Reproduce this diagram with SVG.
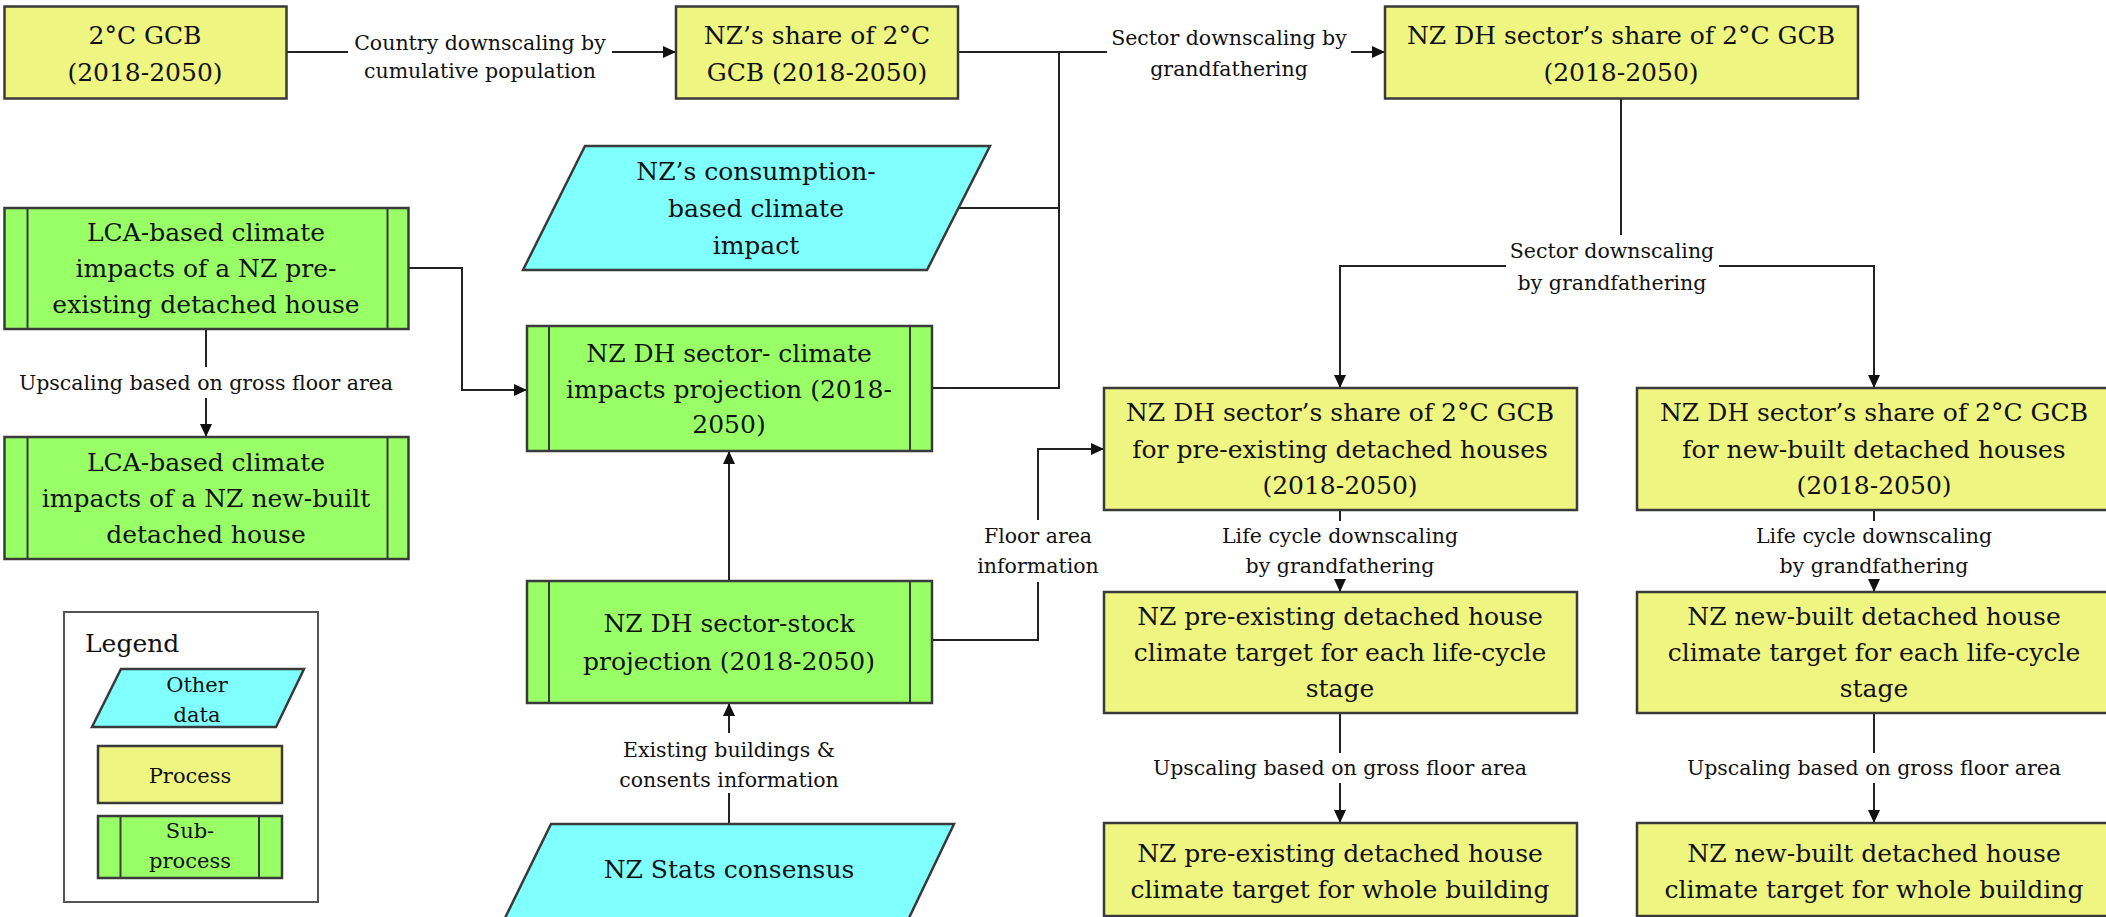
<svg xmlns="http://www.w3.org/2000/svg" width="2106" height="917" viewBox="0 0 2106 917">
<style>
.proc{fill:#EFF581;stroke:#3a3a3a;stroke-width:2.5}
.sub{fill:#99FF66;stroke:#3a3a3a;stroke-width:2.5}
.bar{stroke:#3a3a3a;stroke-width:2;fill:none}
.data{fill:#80FFFF;stroke:#3a3a3a;stroke-width:2.5}
.t{font-family:"DejaVu Serif","Liberation Serif",serif;font-size:25px;fill:#111;text-anchor:middle}
.l{font-family:"DejaVu Serif","Liberation Serif",serif;font-size:20.5px;fill:#111;text-anchor:middle}
.c{fill:none;stroke:#222;stroke-width:2}
.legend{fill:#fff;stroke:#555;stroke-width:2}
</style>
<defs>
<marker id="ah" markerUnits="userSpaceOnUse" markerWidth="14" markerHeight="14" refX="13" refY="7" orient="auto">
<path d="M0,1 L13,7 L0,13 Z" fill="#111"/>
</marker>
</defs>
<rect width="2106" height="917" fill="#fff"/>

<g id="connectors">
<!-- A to B -->
<path class="c" d="M287,52 H348"/>
<path class="c" d="M612,52 H676" marker-end="url(#ah)"/>
<text class="l" x="480" y="50">Country downscaling by</text>
<text class="l" x="480" y="78">cumulative population</text>
<!-- B to C -->
<path class="c" d="M958,52 H1107"/>
<path class="c" d="M1351,52 H1385" marker-end="url(#ah)"/>
<text class="l" x="1229" y="45">Sector downscaling by</text>
<text class="l" x="1229" y="76">grandfathering</text>
<!-- consumption to junction -->
<path class="c" d="M958,208 H1059"/>
<!-- G to junction -->
<path class="c" d="M932,388 H1059 V52"/>
<!-- C to D1/D2 -->
<path class="c" d="M1621,99 V235"/>
<path class="c" d="M1506,266 H1340 V388" marker-end="url(#ah)"/>
<path class="c" d="M1719,266 H1874 V388" marker-end="url(#ah)"/>
<text class="l" x="1612" y="258">Sector downscaling</text>
<text class="l" x="1612" y="290">by grandfathering</text>
<!-- D1 to E1 -->
<path class="c" d="M1340,510 V521"/>
<path class="c" d="M1340,579 V592" marker-end="url(#ah)"/>
<text class="l" x="1340" y="543">Life cycle downscaling</text>
<text class="l" x="1340" y="573">by grandfathering</text>
<!-- D2 to E2 -->
<path class="c" d="M1874,510 V521"/>
<path class="c" d="M1874,579 V592" marker-end="url(#ah)"/>
<text class="l" x="1874" y="543">Life cycle downscaling</text>
<text class="l" x="1874" y="573">by grandfathering</text>
<!-- E1 to F1 -->
<path class="c" d="M1340,713 V753"/>
<path class="c" d="M1340,783 V823" marker-end="url(#ah)"/>
<text class="l" x="1340" y="775">Upscaling based on gross floor area</text>
<!-- E2 to F2 -->
<path class="c" d="M1874,713 V753"/>
<path class="c" d="M1874,783 V823" marker-end="url(#ah)"/>
<text class="l" x="1874" y="775">Upscaling based on gross floor area</text>
<!-- LCA1 to G -->
<path class="c" d="M409,268 H462 V390 H527" marker-end="url(#ah)"/>
<!-- LCA1 to LCA2 -->
<path class="c" d="M206,329 V367"/>
<path class="c" d="M206,398 V437" marker-end="url(#ah)"/>
<text class="l" x="206" y="390">Upscaling based on gross floor area</text>
<!-- H to G -->
<path class="c" d="M729,581 V451" marker-end="url(#ah)"/>
<!-- Stats to H -->
<path class="c" d="M729,824 V793"/>
<path class="c" d="M729,733 V703" marker-end="url(#ah)"/>
<text class="l" x="729" y="757">Existing buildings &amp;</text>
<text class="l" x="729" y="787">consents information</text>
<!-- H to D1 -->
<path class="c" d="M932,640 H1038 V582"/>
<path class="c" d="M1038,520 V449 H1104" marker-end="url(#ah)"/>
<text class="l" x="1038" y="543">Floor area</text>
<text class="l" x="1038" y="573">information</text>
</g>

<g id="gcb">
<rect class="proc" x="4.5" y="6.5" width="282" height="92"/>
<text class="t" x="145" y="44">2°C GCB</text>
<text class="t" x="145" y="81">(2018-2050)</text>
</g>

<g id="nz-share">
<rect class="proc" x="676" y="6.5" width="282" height="92"/>
<text class="t" x="817" y="44">NZ’s share of 2°C</text>
<text class="t" x="817" y="81">GCB (2018-2050)</text>
</g>

<g id="dh-share">
<rect class="proc" x="1385" y="6.5" width="473" height="92"/>
<text class="t" x="1621" y="44">NZ DH sector’s share of 2°C GCB</text>
<text class="t" x="1621" y="81">(2018-2050)</text>
</g>

<g id="consumption">
<polygon class="data" points="585,146 990,146 927,270 523,270"/>
<text class="t" x="756" y="180">NZ’s consumption-</text>
<text class="t" x="756" y="217">based climate</text>
<text class="t" x="756" y="254">impact</text>
</g>

<g id="lca-pre">
<rect class="sub" x="4.5" y="208" width="404" height="121"/>
<line class="bar" x1="27.5" y1="208" x2="27.5" y2="329"/>
<line class="bar" x1="387.5" y1="208" x2="387.5" y2="329"/>
<text class="t" x="206" y="241">LCA-based climate</text>
<text class="t" x="206" y="277">impacts of a NZ pre-</text>
<text class="t" x="206" y="313">existing detached house</text>
</g>

<g id="lca-new">
<rect class="sub" x="4.5" y="437" width="404" height="122"/>
<line class="bar" x1="27.5" y1="437" x2="27.5" y2="559"/>
<line class="bar" x1="387.5" y1="437" x2="387.5" y2="559"/>
<text class="t" x="206" y="471">LCA-based climate</text>
<text class="t" x="206" y="507">impacts of a NZ new-built</text>
<text class="t" x="206" y="543">detached house</text>
</g>

<g id="dh-climate">
<rect class="sub" x="527" y="326" width="405" height="125"/>
<line class="bar" x1="549" y1="326" x2="549" y2="451"/>
<line class="bar" x1="910" y1="326" x2="910" y2="451"/>
<text class="t" x="729" y="362">NZ DH sector- climate</text>
<text class="t" x="729" y="398">impacts projection (2018-</text>
<text class="t" x="729" y="433">2050)</text>
</g>

<g id="dh-stock">
<rect class="sub" x="527" y="581" width="405" height="122"/>
<line class="bar" x1="549" y1="581" x2="549" y2="703"/>
<line class="bar" x1="910" y1="581" x2="910" y2="703"/>
<text class="t" x="729" y="632">NZ DH sector-stock</text>
<text class="t" x="729" y="670">projection (2018-2050)</text>
</g>

<g id="stats">
<polygon class="data" points="551,824 954,824 908,920 504,920"/>
<text class="t" x="729" y="878">NZ Stats consensus</text>
</g>

<g id="pre-share">
<rect class="proc" x="1104" y="388" width="473" height="122"/>
<text class="t" x="1340" y="421">NZ DH sector’s share of 2°C GCB</text>
<text class="t" x="1340" y="458">for pre-existing detached houses</text>
<text class="t" x="1340" y="494">(2018-2050)</text>
</g>

<g id="new-share">
<rect class="proc" x="1637" y="388" width="473" height="122"/>
<text class="t" x="1874" y="421">NZ DH sector’s share of 2°C GCB</text>
<text class="t" x="1874" y="458">for new-built detached houses</text>
<text class="t" x="1874" y="494">(2018-2050)</text>
</g>

<g id="pre-stage">
<rect class="proc" x="1104" y="592" width="473" height="121"/>
<text class="t" x="1340" y="625">NZ pre-existing detached house</text>
<text class="t" x="1340" y="661">climate target for each life-cycle</text>
<text class="t" x="1340" y="697">stage</text>
</g>

<g id="new-stage">
<rect class="proc" x="1637" y="592" width="473" height="121"/>
<text class="t" x="1874" y="625">NZ new-built detached house</text>
<text class="t" x="1874" y="661">climate target for each life-cycle</text>
<text class="t" x="1874" y="697">stage</text>
</g>

<g id="pre-whole">
<rect class="proc" x="1104" y="823" width="473" height="93"/>
<text class="t" x="1340" y="862">NZ pre-existing detached house</text>
<text class="t" x="1340" y="898">climate target for whole building</text>
</g>

<g id="new-whole">
<rect class="proc" x="1637" y="823" width="473" height="93"/>
<text class="t" x="1874" y="862">NZ new-built detached house</text>
<text class="t" x="1874" y="898">climate target for whole building</text>
</g>

<g id="legend">
<rect class="legend" x="64" y="612" width="254" height="290"/>
<text x="85" y="652" style="font-family:'DejaVu Serif','Liberation Serif',serif;font-size:25px;fill:#111">Legend</text>
<polygon class="data" points="121,669 304,669 276,727 92,727"/>
<text class="l" x="197" y="692" style="font-size:21px">Other</text>
<text class="l" x="197" y="722" style="font-size:21px">data</text>
<rect class="proc" x="98" y="746" width="184" height="57"/>
<text class="l" x="190" y="783" style="font-size:21px">Process</text>
<rect class="sub" x="98" y="816" width="184" height="62"/>
<line class="bar" x1="120.5" y1="816" x2="120.5" y2="878"/>
<line class="bar" x1="259" y1="816" x2="259" y2="878"/>
<text class="l" x="190" y="838" style="font-size:21px">Sub-</text>
<text class="l" x="190" y="868" style="font-size:21px">process</text>
</g>
</svg>
